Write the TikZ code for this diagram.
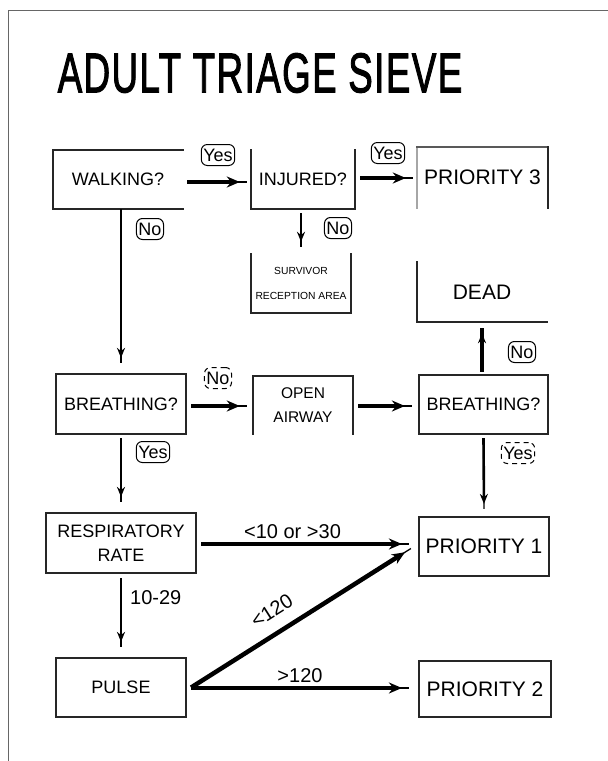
\documentclass[tikz,border=0pt]{standalone}
\usepackage{fontspec}
\setmainfont{Liberation Sans}
\usetikzlibrary{arrows.meta}
\begin{document}
\begin{tikzpicture}[x=1pt,y=-1pt,
  boxtxt/.style={inner sep=0pt, align=center, font=\fontsize{18}{22}\selectfont},
  bigtxt/.style={boxtxt, font=\fontsize{21}{24}\selectfont},
  border/.style={line width=2.2pt, line cap=rect, draw=black!85},
  lbl/.style={draw, line width=1pt, rounded corners=6pt, inner xsep=2pt, inner ysep=0.5pt, minimum height=21pt, font=\fontsize{18}{20}\selectfont},
  lbldot/.style={lbl, dash pattern=on 5pt off 4pt},
  edgetxt/.style={font=\fontsize{20}{22}\selectfont, inner sep=2pt},
  bigarrow/.style={line width=1.3pt, postaction={draw, line width=4.5pt, -{Stealth[length=13pt,width=11pt]}, shorten >=7pt}},
  smallarrow/.style={line width=1.3pt, postaction={draw, line width=2.6pt, -{Stealth[length=10pt,width=8pt]}, shorten >=5pt}}
]
\useasboundingbox (0,0) rectangle (608,761);
\fill[white] (0,0) rectangle (608,761);
% page frame
\draw[black!60, line width=1.2pt] (8.5,761) -- (8.5,10.5) -- (608,10.5);

% title
\node (title) at (260,73) {\scalebox{0.655}[1]{\fontspec{Liberation Sans}[FakeBold=2.2,LetterSpace=4]\fontsize{56}{60}\selectfont ADULT TRIAGE SIEVE}};

% boxes
\node[boxtxt, minimum width=130pt, minimum height=59pt] (walk) at (118,179.5) {WALKING?};
\draw[border] (walk.north east) -- (walk.north west) -- (walk.south west) -- (walk.south east);

\node[boxtxt, minimum width=104pt, minimum height=59pt] (inj) at (303,179.5) {INJURED?};
\draw[border] (inj.north west) -- (inj.south west) -- (inj.south east) -- (inj.north east);

\node[bigtxt, minimum width=131pt, minimum height=61pt] (p3) at (482.5,177.5) {PRIORITY 3};
\draw[border, draw=black!35] (p3.south west) -- (p3.north west);
\draw[border, draw=black!65] (p3.north west) -- (p3.north east);
\draw[border] (p3.north east) -- (p3.south east);

\node[boxtxt, font=\fontsize{10.3}{25}\selectfont, minimum width=100pt, minimum height=59pt] (surv) at (301,283.5) {SURVIVOR\\RECEPTION AREA};
\draw[border] (surv.north west) -- (surv.south west) -- (surv.south east) -- (surv.north east);

\node[bigtxt, minimum width=130pt, minimum height=60pt] (dead) at (482,292) {DEAD};
\draw[border] (dead.north west) -- (dead.south west) -- (dead.south east);

\node[boxtxt, draw=black!85, line width=2.2pt, minimum width=130pt, minimum height=60pt] (br1) at (121,404) {BREATHING?};

\node[boxtxt, font=\fontsize{15.5}{24}\selectfont, minimum width=100pt, minimum height=58pt] (oa) at (303,405) {OPEN\\AIRWAY};
\draw[border] (oa.south west) -- (oa.north west) -- (oa.north east) -- (oa.south east);

\node[boxtxt, draw=black!85, line width=2.2pt, minimum width=129pt, minimum height=59pt] (br2) at (483.5,404.5) {BREATHING?};

\node[boxtxt, draw=black!85, line width=2.2pt, minimum width=150pt, minimum height=60pt, font=\fontsize{18}{24}\selectfont] (resp) at (121,543) {RESPIRATORY\\RATE};

\node[bigtxt, draw=black!85, line width=2.2pt, minimum width=130pt, minimum height=59pt] (p1) at (484,546.5) {PRIORITY 1};

\node[boxtxt, draw=black!85, line width=2.2pt, minimum width=130pt, minimum height=59pt] (pulse) at (121,687.5) {PULSE};

\node[bigtxt, draw=black!85, line width=2.2pt, minimum width=132pt, minimum height=56pt] (p2) at (485,689) {PRIORITY 2};

% connectors
\draw[bigarrow] ([xshift=4pt]walk.east |- 0,182) -- ([xshift=-4pt]inj.west |- 0,182);
\draw[bigarrow] ([xshift=5pt]inj.east |- 0,178) -- ([xshift=-4pt]p3.west |- 0,178);
\draw[smallarrow] (walk.south -| br1.north) -- ([yshift=10pt]br1.north);
\draw[smallarrow] (inj.south -| surv.north) ++(0,4) -- ([yshift=7pt]surv.north);
\draw[bigarrow] ([xshift=4pt]br1.east |- 0,406) -- ([xshift=-6pt]oa.west |- 0,406);
\draw[bigarrow] ([xshift=5pt]oa.east |- 0,406) -- ([xshift=-6pt]br2.west |- 0,406);
\draw[smallarrow, postaction={draw, line width=4pt}] ([xshift=-1.5pt,yshift=2pt]br2.north) -- ([xshift=-1.5pt,yshift=-6pt]br2.north |- dead.south);
\draw[smallarrow] ([yshift=-3pt]br2.south) -- ([yshift=7pt]p1.north);
\draw[smallarrow] ([yshift=-3pt]br1.south) -- ([yshift=10pt]resp.north);
\draw[smallarrow] ([yshift=-4pt]resp.south) -- ([yshift=10pt]pulse.north);
\draw[bigarrow] ([xshift=4pt]resp.east |- 0,544) -- node[edgetxt, pos=0.44, above=3pt] (lrr) {<10 or >30} ([xshift=-9pt]p1.west |- 0,544);
\draw[bigarrow] ([xshift=4pt]pulse.east) -- node[edgetxt, pos=0.42, sloped, above=12pt] (l120a) {<120} ([xshift=-7pt,yshift=-2pt]p1.west);
\draw[bigarrow] ([xshift=4pt]pulse.east |- 0,688) -- node[edgetxt, midway, above=3pt] (l120b) {>120} ([xshift=-9pt]p2.west |- 0,688);
\node[edgetxt, anchor=west] (l1029) at (128,598) {10-29};

% yes / no labels
\node[lbl] (y1) at (218,155) {Yes};
\node[lbl] (y2) at (388,153) {Yes};
\node[lbl] (n1) at (150,229) {No};
\node[lbl] (n2) at (338,228) {No};
\node[lbldot] (n3) at (218,378) {No};
\node[lbl] (y3) at (153,452) {Yes};
\node[lbl] (n4) at (522,352) {No};
\node[lbldot] (y4) at (518,453) {Yes};
\end{tikzpicture}
\end{document}
